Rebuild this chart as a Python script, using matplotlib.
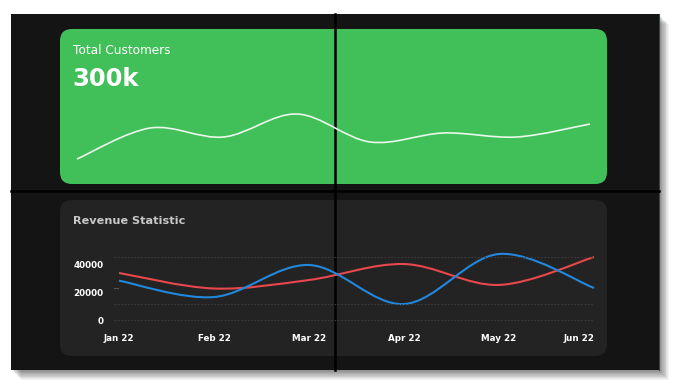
import numpy as np
import matplotlib.pyplot as plt
from matplotlib.patches import FancyBboxPatch, Rectangle, PathPatch
from matplotlib.path import Path

# data
customer_values = [11, 42, 33, 56, 28, 37, 33, 46]

months = ['Jan 22', 'Feb 22', 'Mar 22', 'Apr 22', 'May 22', 'Jun 22']
revenue_red = [34200, 22900, 29100, 40700, 25500, 45800]
revenue_blue = [28600, 16700, 40000, 11600, 48000, 23300]
y_ticks = [0, 20000, 40000]
grid_vals = [200, 11600, 46000]

W, H = 676, 390
plt.rcParams['font.family'] = ['DejaVu Sans']


def frac(x0, y0, x1, y1):
    # pixel box -> figure fraction
    return [x0 / W, 1 - y1 / H, (x1 - x0) / W, (y1 - y0) / H]


def smooth_path(xs, ys):
    # catmull-rom through the points, as cubic bezier segments
    pts = np.column_stack([xs, ys]).astype(float)
    ext = np.vstack([pts[0], pts, pts[-1]])
    verts = [pts[0]]
    codes = [Path.MOVETO]
    for i in range(len(pts) - 1):
        p0, p1, p2, p3 = ext[i], ext[i + 1], ext[i + 2], ext[i + 3]
        verts += [p1 + (p2 - p0) / 6, p2 - (p3 - p1) / 6, p2]
        codes += [Path.CURVE4] * 3
    return Path(verts, codes)


fig = plt.figure(figsize=(W / 100, H / 100), dpi=100)
fig.patch.set_facecolor('white')

bg = fig.add_axes([0, 0, 1, 1])
bg.set_xlim(0, W)
bg.set_ylim(H, 0)
bg.axis('off')

# shadow + dark panel
for k in range(12):
    bg.add_patch(Rectangle((11 + 1 + k * 0.8, 14 + 1 + k * 0.8), 648, 356,
                           color='black', alpha=0.045, lw=0))
bg.add_patch(Rectangle((11, 14), 648, 356, color='#141414', lw=0))
bg.plot([659, 659], [14, 370], color='#1d4f55', lw=0.8)

# cards
bg.add_patch(FancyBboxPatch((60, 29), 547, 155,
                            boxstyle='round,pad=0,rounding_size=12',
                            fc='#41c05a', ec='none'))
bg.add_patch(FancyBboxPatch((60, 200), 547, 156,
                            boxstyle='round,pad=0,rounding_size=12',
                            fc='#232323', ec='none'))

bg.text(73, 50, 'Total Customers', color='white', fontsize=8.7,
        va='center', ha='left')
bg.text(72, 79, '300k', color='white', fontsize=17.5, fontweight='bold',
        va='center', ha='left')
bg.text(73, 221, 'Revenue Statistic', color='#c8c8c8', fontsize=8.1,
        fontweight='bold', va='center', ha='left')
bg.plot([114, 118], [288, 288], color='#555555', lw=0.8)

# sparkline
sp = fig.add_axes(frac(77, 100, 590, 170))
sp.set_xlim(0, len(customer_values) - 1)
sp.set_ylim(0, 70)
sp.axis('off')
sp.add_patch(PathPatch(smooth_path(np.arange(len(customer_values)), customer_values),
                       fc='none', ec='#eaf7ec', lw=1.2, clip_on=False))

# revenue chart
ax = fig.add_axes(frac(119, 250, 594, 320))
ax.patch.set_alpha(0)
ax.set_xlim(0, len(months) - 1)
ax.set_ylim(0, 70 / 0.001375)
for s in ax.spines.values():
    s.set_visible(False)
ax.hlines(grid_vals, -0.053, len(months) - 1, colors='#3c3c3c', lw=0.8,
          linestyles=(0, (1.5, 1.5)), clip_on=False)
x = np.arange(len(months))
ax.add_patch(PathPatch(smooth_path(x, revenue_red), fc='none', ec='#e8474c',
                       lw=1.5, clip_on=False))
ax.add_patch(PathPatch(smooth_path(x, revenue_blue), fc='none', ec='#2288dd',
                       lw=1.5, clip_on=False))
ax.set_xticks(x)
ax.set_xticklabels(months)
ax.set_yticks(y_ticks)
ax.set_yticklabels([str(v) for v in y_ticks])
ax.tick_params(length=0, colors='white', labelsize=6.3, pad=11)
ax.tick_params(axis='x', pad=10)
for lab in ax.get_xticklabels() + ax.get_yticklabels():
    lab.set_fontweight('bold')
ax.get_xticklabels()[-1].set_ha('right')

# black crosshair lines
bg.plot([335, 335], [14, 370], color='black', lw=1.8)
bg.plot([11, 659], [191, 191], color='black', lw=1.8)

fig.savefig('out.png', dpi=100)
